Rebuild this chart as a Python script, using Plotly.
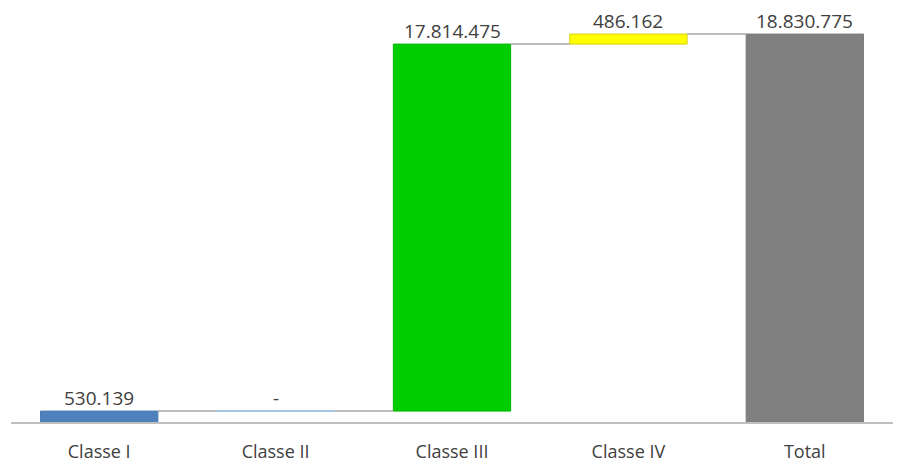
import plotly.graph_objects as go

categories = ["Classe I", "Classe II", "Classe III", "Classe IV", "Total"]
values = [530139, 0, 17814475, 486162, 18830775]
is_total = [False, False, False, False, True]
colors = ["#4f81bd", "#9dc3e6", "#00cc00", "#ffff00", "#808080"]
line_colors = ["#4a7ab3", "#9dc3e6", "#00bb00", "#d6d200", "#7a7a7a"]

def fmt(v):
    return "-" if v == 0 else f"{v:,}".replace(",", ".")

# cumulative bases
bases, tops = [], []
run = 0
for v, t in zip(values, is_total):
    if t:
        bases.append(0)
        tops.append(v)
        run = v
    else:
        bases.append(run)
        run += v
        tops.append(run)

BAR_W = 0.665
fig = go.Figure()
fig.add_trace(go.Bar(
    x=categories, y=values, base=bases, width=BAR_W,
    marker=dict(color=colors, line=dict(color=line_colors, width=1)),
    hoverinfo="skip", showlegend=False,
))

shapes = []
# connectors
for i in range(len(categories) - 1):
    shapes.append(dict(type="line", xref="x", yref="y",
                       x0=i + BAR_W / 2, x1=i + 1 - BAR_W / 2,
                       y0=tops[i], y1=tops[i],
                       line=dict(color="#a6a6a6", width=1.5)))
# zero-height bars drawn as thin lines
for i, v in enumerate(values):
    if v == 0:
        shapes.append(dict(type="line", xref="x", yref="y",
                           x0=i - BAR_W / 2, x1=i + BAR_W / 2,
                           y0=tops[i], y1=tops[i],
                           line=dict(color=colors[i], width=1.5)))

annotations = []
for i, v in enumerate(values):
    annotations.append(dict(x=i, y=tops[i], xref="x", yref="y",
                            text=fmt(v), showarrow=False,
                            yanchor="bottom", yshift=-1, borderpad=0,
                            font=dict(size=19, color="#404040")))

fig.update_layout(
    width=922, height=462,
    margin=dict(l=3, r=37, t=2, b=48),
    paper_bgcolor="white", plot_bgcolor="white",
    font=dict(family="Open Sans", size=18, color="#404040"),
    shapes=shapes, annotations=annotations,
)
fig.update_xaxes(showline=True, linecolor="#bfbfbf", linewidth=2,
                 ticks="outside", ticklen=12, tickcolor="rgba(0,0,0,0)",
                 showgrid=False, automargin=False,
                 tickfont=dict(size=18, color="#404040"),
                 range=[-0.5, 4.5])
fig.update_yaxes(range=[0, 20000000], visible=False, showgrid=False,
                 zeroline=False, automargin=False)

fig.write_html("out.html")
